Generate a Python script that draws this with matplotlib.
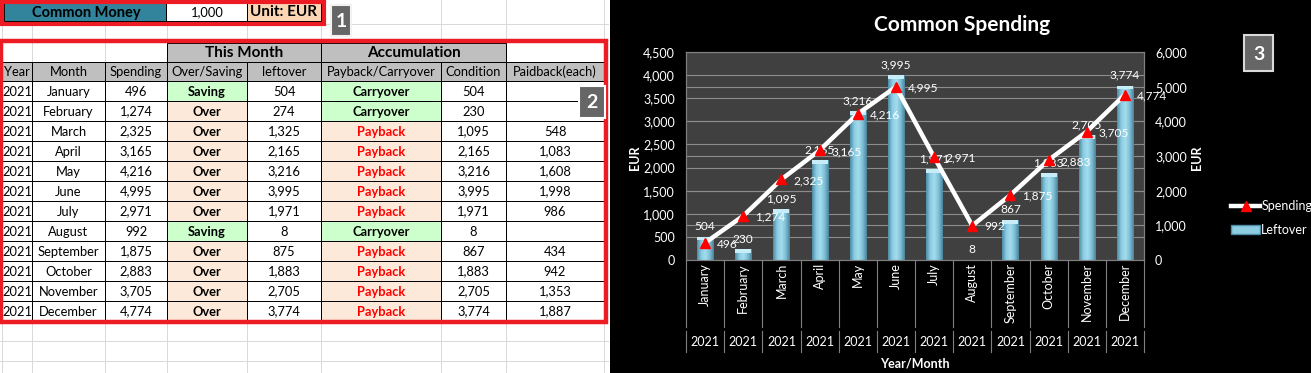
import matplotlib
matplotlib.use('Agg')
import matplotlib.pyplot as plt
import matplotlib.transforms as mtransforms
from matplotlib.patches import Rectangle, Patch
from matplotlib.lines import Line2D
from matplotlib.colors import LinearSegmentedColormap
from matplotlib.ticker import FuncFormatter
import numpy as np

plt.rcParams['font.family'] = ['Lato', 'DejaVu Sans']

# data
year = '2021'
months = ['January', 'February', 'March', 'April', 'May', 'June', 'July',
          'August', 'September', 'October', 'November', 'December']
spending = [496, 1274, 2325, 3165, 4216, 4995, 2971, 992, 1875, 2883, 3705, 4774]
leftover = [504, 274, 1325, 2165, 3216, 3995, 1971, 8, 875, 1883, 2705, 3774]
over_saving = ['Saving', 'Over', 'Over', 'Over', 'Over', 'Over', 'Over',
               'Saving', 'Over', 'Over', 'Over', 'Over']
pay_carry = ['Carryover', 'Carryover', 'Payback', 'Payback', 'Payback', 'Payback',
             'Payback', 'Carryover', 'Payback', 'Payback', 'Payback', 'Payback']
condition = [504, 230, 1095, 2165, 3216, 3995, 1971, 8, 867, 1883, 2705, 3774]
paidback = [None, None, 548, 1083, 1608, 1998, 986, None, 434, 942, 1353, 1887]
common_money = 1000
headers = ['Year', 'Month', 'Spending', 'Over/Saving', 'leftover',
           'Payback/Carryover', 'Condition', 'Paidback(each)']

W, H = 1311, 373
fig = plt.figure(figsize=(W / 100, H / 100), dpi=100)
fig.patch.set_facecolor('white')

# page axes in pixel coordinates
pg = fig.add_axes([0, 0, 1, 1])
pg.set_xlim(0, W)
pg.set_ylim(H, 0)
pg.axis('off')

PX = 0.72  # one pixel in points
FS = 9.3   # cell text size
CFS = 9    # chart text size
LFS = 8.6  # data label size

# ---------------- spreadsheet ----------------
cols = [2, 32, 105, 167, 247, 321, 441, 506, 604]
grid_c = '#D9D9D9'
for c in cols:
    pg.plot([c, c], [0, H], color=grid_c, lw=PX, zorder=1)
for r in [24, 40, 341, 361]:
    pg.plot([0, 608], [r, r], color=grid_c, lw=PX, zorder=1)

# top row
pg.add_patch(Rectangle((4, 3), 162, 18, facecolor='#31849B', edgecolor='black', lw=PX, zorder=2))
pg.add_patch(Rectangle((166, 3), 81, 18, facecolor='white', edgecolor='black', lw=PX, zorder=2))
pg.add_patch(Rectangle((247, 3), 74, 18, facecolor='#FCD5B4', edgecolor='black', lw=PX, zorder=2))
pg.text(86, 12.5, 'Common Money', ha='center', va='center', fontsize=10.5, fontweight='bold', zorder=3)
pg.text(207, 12.5, f'{common_money:,}', ha='center', va='center', fontsize=FS, zorder=3)
pg.text(284, 12.5, 'Unit: EUR', ha='center', va='center', fontsize=11, fontweight='bold', zorder=3)
pg.add_patch(Rectangle((1.5, 1.5), 322, 22, facecolor='none', edgecolor='#ED1C24', lw=3, zorder=4))

# header rows
h1, h2, d0, rh = 43, 62, 81, 20
pg.add_patch(Rectangle((2, h1), 602, d0 - h1, facecolor='white', edgecolor='none', zorder=1.5))
for c in cols:
    pg.plot([c, c], [h1, h2], color=grid_c, lw=PX, zorder=1.6)
pg.add_patch(Rectangle((cols[3], h1), cols[5] - cols[3], h2 - h1, facecolor='#BFBFBF',
                       edgecolor='black', lw=PX, zorder=2))
pg.add_patch(Rectangle((cols[5], h1), cols[7] - cols[5], h2 - h1, facecolor='#BFBFBF',
                       edgecolor='black', lw=PX, zorder=2))
pg.text((cols[3] + cols[5]) / 2, (h1 + h2) / 2 + 0.5, 'This Month', ha='center', va='center',
        fontsize=11, fontweight='bold', zorder=3)
pg.text((cols[5] + cols[7]) / 2, (h1 + h2) / 2 + 0.5, 'Accumulation', ha='center', va='center',
        fontsize=11, fontweight='bold', zorder=3)
for i, hd in enumerate(headers):
    pg.add_patch(Rectangle((cols[i], h2), cols[i + 1] - cols[i], d0 - h2, facecolor='#BFBFBF',
                           edgecolor='black', lw=PX, zorder=2))
    pg.text((cols[i] + cols[i + 1]) / 2, (h2 + d0) / 2 + 0.5, hd, ha='center', va='center',
            fontsize=FS, zorder=3)

green, peach = '#CCFFCC', '#FDE9D9'
for j in range(len(months)):
    y0 = d0 + j * rh
    cells = [year, months[j], f'{spending[j]:,}', over_saving[j], f'{leftover[j]:,}',
             pay_carry[j], f'{condition[j]:,}',
             '' if paidback[j] is None else f'{paidback[j]:,}']
    for i, val in enumerate(cells):
        fc = 'white'
        color = 'black'
        weight = 'normal'
        if i == 3:
            fc = green if val == 'Saving' else peach
            weight = 'bold'
        if i == 5:
            fc = green if val == 'Carryover' else peach
            color = 'black' if val == 'Carryover' else '#FF0000'
            weight = 'bold'
        pg.add_patch(Rectangle((cols[i], y0), cols[i + 1] - cols[i], rh, facecolor=fc,
                               edgecolor='black', lw=PX, zorder=2))
        pg.text((cols[i] + cols[i + 1]) / 2, y0 + rh / 2 + 0.5, val, ha='center', va='center',
                fontsize=FS, fontweight=weight, color=color, zorder=3)

pg.add_patch(Rectangle((0.5, 40.5), 605, 281, facecolor='none', edgecolor='#ED1C24', lw=3.2, zorder=4))


def badge(x0, y0, w, h, label, ec='white'):
    pg.add_patch(Rectangle((x0, y0), w, h, facecolor='#666666', edgecolor=ec, lw=1.5, zorder=5))
    pg.text(x0 + w / 2, y0 + h / 2 + 1, label, ha='center', va='center', color='white',
            fontsize=14, fontweight='bold', zorder=6)


badge(331, 5, 20, 31, '1', ec='#F2F2F2')
badge(579, 86, 26, 32, '2')

# ---------------- chart ----------------
pg.add_patch(Rectangle((610, 0), W - 610, H, facecolor='black', edgecolor='none', zorder=1))
pg.text(962, 25, 'Common Spending', ha='center', va='center', color='white',
        fontsize=15, fontweight='bold', zorder=3)
badge(1244, 35, 29, 36, '3', ec='#D9D9D9')
pg.text(635, 158, 'EUR', rotation=90, ha='center', va='center', color='white',
        fontsize=CFS, fontweight='bold', zorder=3)
pg.text(1197, 158, 'EUR', rotation=90, ha='center', va='center', color='white',
        fontsize=CFS, fontweight='bold', zorder=3)
pg.text(915, 363, 'Year/Month', ha='center', va='center', color='white',
        fontsize=CFS, fontweight='bold', zorder=3)

top, bot, left, right = 52, 260, 686, 1144
ax = fig.add_axes([left / W, 1 - bot / H, (right - left) / W, (bot - top) / H])
ax.set_facecolor('#404040')
ax2 = ax.twinx()
lmax, rmax = 4500, 6000

x = np.arange(len(months))
for v in range(500, lmax + 1, 500):
    ax.axhline(v, color='#8C8C8C', lw=0.8, zorder=0.5)
for v in range(1000, rmax + 1, 1000):
    ax.axhline(v * lmax / rmax, color='#8C8C8C', lw=0.8, zorder=0.5)

bw = 0.42
cmap = LinearSegmentedColormap.from_list('bar', ['#4E8BA5', '#8CCDE2', '#A3DCEE', '#7FC0D6', '#4A839C'])
grad = np.linspace(0, 1, 64).reshape(1, -1)
bars = ax.bar(x, condition, width=bw, color='#8CCDE2', edgecolor='none', zorder=2)
for b in bars:
    bx, bh = b.get_x(), b.get_height()
    im = ax.imshow(grad, extent=[bx, bx + bw, 0, bh], aspect='auto', cmap=cmap, zorder=2.1)
    im.set_clip_path(b)
cap = [min(v, 80) for v in condition]
ax.bar(x, cap, bottom=np.array(condition) - np.array(cap), width=bw,
       color='#C6EDF8', edgecolor='none', zorder=2.2)
for xi, v in zip(x, condition):
    ax.annotate(f'{v:,}', (xi, v), xytext=(0, 3.5), textcoords='offset points',
                ha='center', va='bottom', color='white', fontsize=LFS, zorder=5)

ax.set_xlim(-0.5, len(months) - 0.5)
ax.set_ylim(0, lmax)
ax.set_xticks([])
ax.set_yticks(range(0, lmax + 1, 500))
fmt = FuncFormatter(lambda v, p: f'{int(v):,}')
ax.yaxis.set_major_formatter(fmt)
ax.tick_params(axis='y', colors='white', length=0, pad=8, labelsize=CFS)

ax2.plot(x, spending, color='white', lw=3.2, marker='^', ms=7, mfc='#FF0000', mec='#FF0000',
         zorder=4)
for xi, v in zip(x, spending):
    ax2.annotate(f'{v:,}', (xi, v), xytext=(8.5, -1), textcoords='offset points',
                 ha='left', va='center', color='white', fontsize=LFS)
ax2.set_ylim(0, rmax)
ax2.set_yticks(range(0, rmax + 1, 1000))
ax2.yaxis.set_major_formatter(fmt)
ax2.tick_params(axis='y', colors='white', length=0, pad=8, labelsize=CFS)

for a in (ax, ax2):
    for s in a.spines.values():
        s.set_color('#808080')
        s.set_linewidth(0.8)

# category axis below the plot
trans = mtransforms.blended_transform_factory(ax.transData, ax.transAxes)


def yf(py):
    return (bot - py) / (bot - top)


for bnd in np.arange(-0.5, len(months), 1.0):
    ax.plot([bnd, bnd], [0, yf(327)], transform=trans, clip_on=False, color='#808080', lw=0.8)
    ax.plot([bnd, bnd], [yf(331), yf(352)], transform=trans, clip_on=False, color='#808080', lw=0.8)
for xi, m in zip(x, months):
    ax.text(xi, yf(263), m, rotation=90, ha='center', va='top', transform=trans,
            color='white', fontsize=CFS)
    ax.text(xi, yf(342), year, ha='center', va='center', transform=trans,
            color='white', fontsize=CFS)

handles = [Line2D([0], [0], color='white', lw=3.2, marker='^', ms=7, mfc='#FF0000', mec='#FF0000'),
           Patch(facecolor='#8CCDE2', edgecolor='#4E8BA5')]
fig.legend(handles, ['Spending', 'Leftover'], loc='upper left',
           bbox_to_anchor=(1220 / W, 1 - 189 / H), frameon=False, labelcolor='white',
           fontsize=CFS, handlelength=2.3, handletextpad=0.1, labelspacing=0.9)

fig.savefig('out.png', dpi=100)
